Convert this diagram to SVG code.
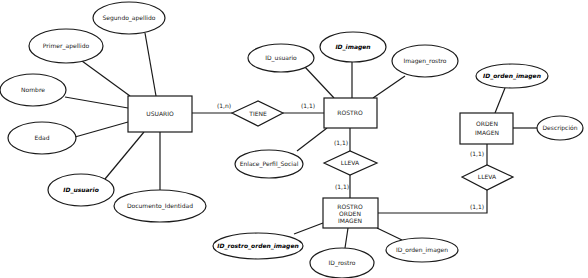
<svg xmlns="http://www.w3.org/2000/svg" width="588" height="278" viewBox="0 0 588 278">
<style>
.sh{fill:#fff;stroke:#1a1a1a;stroke-width:1.2}
.ln{stroke:#1a1a1a;stroke-width:1.2;fill:none}
text{font-family:"DejaVu Sans",sans-serif;font-size:6px;fill:#222;text-anchor:middle;dominant-baseline:middle}
.k{font-weight:bold;font-style:italic;fill:#000}
</style>
<rect width="588" height="278" fill="#fff"/>
<g id="connectors">
<line class="ln" x1="145" y1="33" x2="156" y2="96"/>
<line class="ln" x1="82" y1="61" x2="130" y2="96"/>
<line class="ln" x1="65" y1="97" x2="128" y2="108"/>
<line class="ln" x1="75" y1="137" x2="128" y2="122"/>
<line class="ln" x1="105" y1="179" x2="144" y2="132"/>
<line class="ln" x1="160" y1="190" x2="160" y2="132"/>
<line class="ln" x1="305" y1="67" x2="334" y2="98"/>
<line class="ln" x1="352" y1="62" x2="352" y2="98"/>
<line class="ln" x1="405" y1="76" x2="373" y2="98"/>
<line class="ln" x1="297" y1="151" x2="327" y2="128"/>
<line class="ln" x1="505" y1="88" x2="495" y2="113"/>
<line class="ln" x1="513" y1="128" x2="537" y2="128"/>
<line class="ln" x1="294" y1="234" x2="323" y2="223"/>
<line class="ln" x1="348" y1="228" x2="345" y2="248"/>
<line class="ln" x1="377" y1="228" x2="402" y2="240"/>
<line class="ln" x1="192" y1="113" x2="232" y2="113"/>
<line class="ln" x1="283" y1="113" x2="324" y2="113"/>
<line class="ln" x1="350" y1="128" x2="350" y2="151"/>
<line class="ln" x1="350" y1="175" x2="350" y2="198"/>
<polyline class="ln" points="378,213 487,213 487,190"/>
<line class="ln" x1="487" y1="144" x2="487" y2="165"/>
<text x="224" y="106">(1,n)</text>
<text x="308" y="106">(1,1)</text>
<text x="341" y="143">(1,1)</text>
<text x="342" y="187">(1,1)</text>
<text x="477" y="154">(1,1)</text>
<text x="477" y="207">(1,1)</text>
</g>
<g id="usuario"><rect class="sh" x="128" y="96" width="64" height="36"/><text x="160" y="114">USUARIO</text></g>
<g id="segundo_apellido"><ellipse class="sh" cx="129" cy="18" rx="36" ry="16"/><text x="129" y="18">Segundo_apellido</text></g>
<g id="primer_apellido"><ellipse class="sh" cx="66" cy="46" rx="37" ry="17"/><text x="66" y="46">Primer_apellido</text></g>
<g id="nombre"><ellipse class="sh" cx="33" cy="90" rx="33" ry="16"/><text x="33" y="90">Nombre</text></g>
<g id="edad"><ellipse class="sh" cx="42" cy="138" rx="34" ry="16"/><text x="42" y="138">Edad</text></g>
<g id="id_usuario"><ellipse class="sh" cx="81" cy="190" rx="33" ry="16"/><text class="k" x="81" y="190">ID_usuario</text></g>
<g id="documento"><ellipse class="sh" cx="160" cy="206" rx="46" ry="16"/><text x="160" y="206">Documento_Identidad</text></g>
<g id="tiene"><polygon class="sh" points="232,113 258,101 283,113 258,126"/><text x="258" y="114">TIENE</text></g>
<g id="rostro"><rect class="sh" x="324" y="98" width="53" height="30"/><text x="350" y="113">ROSTRO</text></g>
<g id="rostro_id_usuario"><ellipse class="sh" cx="281" cy="58" rx="33" ry="14"/><text x="281" y="58">ID_usuario</text></g>
<g id="id_imagen"><ellipse class="sh" cx="353" cy="47" rx="33" ry="15"/><text class="k" x="353" y="47">ID_imagen</text></g>
<g id="imagen_rostro"><ellipse class="sh" cx="425" cy="61" rx="33" ry="16"/><text x="425" y="61">Imagen_rostro</text></g>
<g id="enlace"><ellipse class="sh" cx="269" cy="164" rx="34" ry="14"/><text x="269" y="164">Enlace_Perfil_Social</text></g>
<g id="lleva1"><polygon class="sh" points="324,163 350,151 377,163 350,175"/><text x="350" y="163">LLEVA</text></g>
<g id="rostro_orden_imagen"><rect class="sh" x="323" y="198" width="55" height="30"/><text x="350" y="207">ROSTRO</text><text x="350" y="214">ORDEN</text><text x="350" y="221">IMAGEN</text></g>
<g id="id_rostro_orden_imagen"><ellipse class="sh" cx="258" cy="246" rx="45" ry="13"/><text class="k" x="258" y="246">ID_rostro_orden_imagen</text></g>
<g id="id_rostro"><ellipse class="sh" cx="342" cy="263" rx="32" ry="15"/><text x="342" y="263">ID_rostro</text></g>
<g id="ror_id_orden_imagen"><ellipse class="sh" cx="422" cy="250" rx="36" ry="12"/><text x="422" y="250">ID_orden_imagen</text></g>
<g id="orden_imagen"><rect class="sh" x="460" y="113" width="53" height="31"/><text x="487" y="124">ORDEN</text><text x="487" y="133">IMAGEN</text></g>
<g id="id_orden_imagen"><ellipse class="sh" cx="512" cy="76" rx="36" ry="12"/><text class="k" x="512" y="76">ID_orden_imagen</text></g>
<g id="descripcion"><ellipse class="sh" cx="560" cy="128" rx="23" ry="12"/><text x="560" y="128">Descripción</text></g>
<g id="lleva2"><polygon class="sh" points="462,177 487,165 513,177 487,190"/><text x="487" y="177">LLEVA</text></g>
</svg>
